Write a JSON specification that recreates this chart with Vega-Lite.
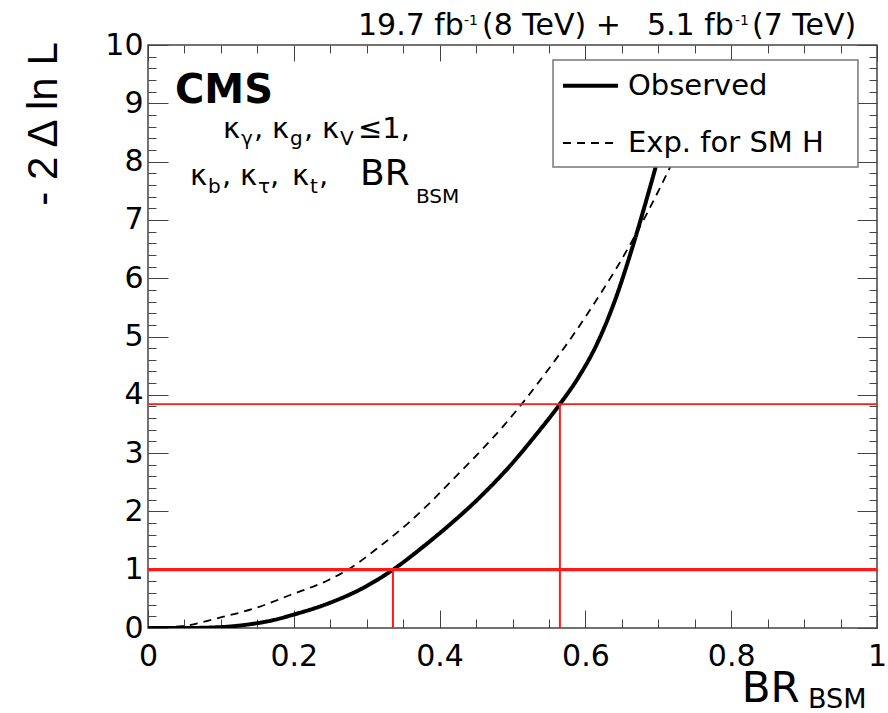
{
  "$schema": "https://vega.github.io/schema/vega-lite/v6.json",
  "width": 729,
  "height": 583,
  "autosize": {"type": "none"},
  "padding": {"left": 148, "top": 45, "right": 11, "bottom": 85},
  "background": "white",
  "config": {
    "view": {"stroke": "#444", "strokeWidth": 1.5},
    "axis": {"tickColor": "#444", "tickWidth": 1, "domain": false, "grid": false, "title": null, "labelFont": "DejaVu Sans", "labelColor": "black", "labelFontSize": 30},
    "text": {"font": "DejaVu Sans", "color": "black"}
  },
  "data": {"values": [{}]},
  "datasets": {
    "curves": [
      {"series": "Observed", "br": 0, "nll": 0},
      {"series": "Observed", "br": 0.05, "nll": 0},
      {"series": "Observed", "br": 0.1, "nll": 0.015},
      {"series": "Observed", "br": 0.137, "nll": 0.06},
      {"series": "Observed", "br": 0.17, "nll": 0.13},
      {"series": "Observed", "br": 0.197, "nll": 0.22},
      {"series": "Observed", "br": 0.247, "nll": 0.42},
      {"series": "Observed", "br": 0.297, "nll": 0.7},
      {"series": "Observed", "br": 0.336, "nll": 1.0},
      {"series": "Observed", "br": 0.38, "nll": 1.42},
      {"series": "Observed", "br": 0.41, "nll": 1.73},
      {"series": "Observed", "br": 0.455, "nll": 2.24},
      {"series": "Observed", "br": 0.5, "nll": 2.83},
      {"series": "Observed", "br": 0.53, "nll": 3.28},
      {"series": "Observed", "br": 0.565, "nll": 3.84},
      {"series": "Observed", "br": 0.59, "nll": 4.29},
      {"series": "Observed", "br": 0.615, "nll": 4.85},
      {"series": "Observed", "br": 0.64, "nll": 5.6},
      {"series": "Observed", "br": 0.665, "nll": 6.55},
      {"series": "Observed", "br": 0.685, "nll": 7.4},
      {"series": "Observed", "br": 0.705, "nll": 8.3},
      {"series": "Observed", "br": 0.72, "nll": 9.0},
      {"series": "Exp. for SM H", "br": 0, "nll": 0},
      {"series": "Exp. for SM H", "br": 0.046, "nll": 0.03},
      {"series": "Exp. for SM H", "br": 0.096, "nll": 0.17},
      {"series": "Exp. for SM H", "br": 0.147, "nll": 0.34},
      {"series": "Exp. for SM H", "br": 0.196, "nll": 0.57},
      {"series": "Exp. for SM H", "br": 0.247, "nll": 0.82},
      {"series": "Exp. for SM H", "br": 0.274, "nll": 1.0},
      {"series": "Exp. for SM H", "br": 0.32, "nll": 1.42},
      {"series": "Exp. for SM H", "br": 0.357, "nll": 1.8},
      {"series": "Exp. for SM H", "br": 0.387, "nll": 2.15},
      {"series": "Exp. for SM H", "br": 0.42, "nll": 2.57},
      {"series": "Exp. for SM H", "br": 0.455, "nll": 3.02},
      {"series": "Exp. for SM H", "br": 0.49, "nll": 3.5},
      {"series": "Exp. for SM H", "br": 0.51, "nll": 3.8},
      {"series": "Exp. for SM H", "br": 0.547, "nll": 4.4},
      {"series": "Exp. for SM H", "br": 0.583, "nll": 5.02},
      {"series": "Exp. for SM H", "br": 0.62, "nll": 5.72},
      {"series": "Exp. for SM H", "br": 0.643, "nll": 6.18},
      {"series": "Exp. for SM H", "br": 0.665, "nll": 6.66},
      {"series": "Exp. for SM H", "br": 0.684, "nll": 7.1},
      {"series": "Exp. for SM H", "br": 0.709, "nll": 7.72},
      {"series": "Exp. for SM H", "br": 0.73, "nll": 8.27},
      {"series": "Exp. for SM H", "br": 0.75, "nll": 8.83}
    ],
    "limits": [
      {"br": 0.336, "nll": 1},
      {"br": 0.565, "nll": 3.84}
    ]
  },
  "resolve": {"axis": {"x": "independent", "y": "independent"}},
  "layer": [
    {
      "data": {"name": "curves"},
      "mark": {"type": "line", "interpolate": "monotone", "color": "black", "clip": true},
      "encoding": {
        "x": {"field": "br", "type": "quantitative", "scale": {"domain": [0, 1], "nice": false, "zero": false},
              "axis": {"orient": "bottom", "values": [0, 0.2, 0.4, 0.6, 0.8, 1], "format": "~g", "tickSize": -18, "labelPadding": 31, "labelFlush": false, "labelOverlap": false}},
        "y": {"field": "nll", "type": "quantitative", "scale": {"domain": [0, 10], "nice": false, "zero": false},
              "axis": {"orient": "left", "values": [0, 1, 2, 3, 4, 5, 6, 7, 8, 9, 10], "format": "d", "tickSize": -20, "labelPadding": 25, "labelFlush": false, "labelOverlap": false}},
        "strokeDash": {"field": "series", "type": "nominal",
          "scale": {"domain": ["Observed", "Exp. for SM H"], "range": [[1, 0], [8, 6]]}, "legend": null},
        "strokeWidth": {"field": "series", "type": "nominal",
          "scale": {"domain": ["Observed", "Exp. for SM H"], "range": [4, 1.8]}, "legend": null}
      }
    },
    {
      "data": {"name": "curves"},
      "mark": {"type": "point", "opacity": 0},
      "encoding": {
        "x": {"field": "br", "type": "quantitative", "scale": {"domain": [0, 1], "nice": false, "zero": false},
              "axis": {"orient": "bottom", "values": [0.05, 0.1, 0.15, 0.25, 0.3, 0.35, 0.45, 0.5, 0.55, 0.65, 0.7, 0.75, 0.85, 0.9, 0.95], "tickSize": -9, "labels": false}},
        "y": {"field": "nll", "type": "quantitative", "scale": {"domain": [0, 10], "nice": false, "zero": false},
              "axis": {"orient": "left", "values": [0.2, 0.4, 0.6, 0.8, 1.2, 1.4, 1.6, 1.8, 2.2, 2.4, 2.6, 2.8, 3.2, 3.4, 3.6, 3.8, 4.2, 4.4, 4.6, 4.8, 5.2, 5.4, 5.6, 5.8, 6.2, 6.4, 6.6, 6.8, 7.2, 7.4, 7.6, 7.8, 8.2, 8.4, 8.6, 8.8, 9.2, 9.4, 9.6, 9.8], "tickSize": -8, "labels": false}}
      }
    },
    {
      "data": {"name": "curves"},
      "mark": {"type": "point", "opacity": 0},
      "encoding": {
        "x": {"field": "br", "type": "quantitative", "scale": {"domain": [0, 1], "nice": false, "zero": false},
              "axis": {"orient": "top", "values": [0, 0.2, 0.4, 0.6, 0.8, 1], "tickSize": -16, "labels": false}},
        "y": {"field": "nll", "type": "quantitative", "scale": {"domain": [0, 10], "nice": false, "zero": false},
              "axis": {"orient": "right", "values": [0, 1, 2, 3, 4, 5, 6, 7, 8, 9, 10], "tickSize": -20, "labels": false}}
      }
    },
    {
      "data": {"name": "curves"},
      "mark": {"type": "point", "opacity": 0},
      "encoding": {
        "x": {"field": "br", "type": "quantitative", "scale": {"domain": [0, 1], "nice": false, "zero": false},
              "axis": {"orient": "top", "values": [0.05, 0.1, 0.15, 0.25, 0.3, 0.35, 0.45, 0.5, 0.55, 0.65, 0.7, 0.75, 0.85, 0.9, 0.95], "tickSize": -8, "labels": false}},
        "y": {"field": "nll", "type": "quantitative", "scale": {"domain": [0, 10], "nice": false, "zero": false},
              "axis": {"orient": "right", "values": [0.2, 0.4, 0.6, 0.8, 1.2, 1.4, 1.6, 1.8, 2.2, 2.4, 2.6, 2.8, 3.2, 3.4, 3.6, 3.8, 4.2, 4.4, 4.6, 4.8, 5.2, 5.4, 5.6, 5.8, 6.2, 6.4, 6.6, 6.8, 7.2, 7.4, 7.6, 7.8, 8.2, 8.4, 8.6, 8.8, 9.2, 9.4, 9.6, 9.8], "tickSize": -8, "labels": false}}
      }
    },
    {
      "data": {"name": "limits"},
      "mark": {"type": "rule", "color": "#ff1a1a"},
      "encoding": {
        "y": {"field": "nll", "type": "quantitative", "axis": null},
        "strokeWidth": {"condition": {"test": "datum.nll == 1", "value": 3.2}, "value": 1.8}
      }
    },
    {
      "data": {"name": "limits"},
      "mark": {"type": "rule", "color": "#ff1a1a", "strokeWidth": 2},
      "encoding": {
        "x": {"field": "br", "type": "quantitative", "axis": null},
        "y": {"datum": 0, "type": "quantitative", "axis": null},
        "y2": {"field": "nll", "type": "quantitative"}
      }
    },
    {"mark": {"type": "rect", "fill": "white", "stroke": "#777", "strokeWidth": 1.5},
     "encoding": {"x": {"datum": 0.5556, "type": "quantitative", "axis": null}, "x2": {"datum": 0.9739}, "y": {"datum": 9.743, "type": "quantitative", "axis": null}, "y2": {"datum": 7.907}}},
    {"mark": {"type": "rule", "color": "black", "strokeWidth": 4},
     "encoding": {"x": {"datum": 0.5693, "type": "quantitative", "axis": null}, "x2": {"datum": 0.6447}, "y": {"datum": 9.302, "type": "quantitative", "axis": null}}},
    {"mark": {"type": "rule", "color": "black", "strokeWidth": 1.8, "strokeDash": [8, 6]},
     "encoding": {"x": {"datum": 0.5693, "type": "quantitative", "axis": null}, "x2": {"datum": 0.6447}, "y": {"datum": 8.319, "type": "quantitative", "axis": null}}},
    {"mark": {"type": "text", "align": "left", "baseline": "middle", "fontSize": 29},
     "encoding": {"x": {"datum": 0.6584, "type": "quantitative", "axis": null}, "y": {"datum": 9.302, "type": "quantitative", "axis": null}, "text": {"value": "Observed"}}},
    {"mark": {"type": "text", "align": "left", "baseline": "middle", "fontSize": 29},
     "encoding": {"x": {"datum": 0.6584, "type": "quantitative", "axis": null}, "y": {"datum": 8.319, "type": "quantitative", "axis": null}, "text": {"value": "Exp. for SM H"}}},

    {"mark": {"type": "text", "align": "left", "baseline": "alphabetic", "fontSize": 40, "fontWeight": "bold"},
     "encoding": {"x": {"datum": 0.037, "type": "quantitative", "axis": null}, "y": {"datum": 9.0, "type": "quantitative", "axis": null}, "text": {"value": "CMS"}}},

    {"mark": {"type": "text", "align": "left", "baseline": "alphabetic", "fontSize": 29},
     "encoding": {"x": {"datum": 0.1029, "type": "quantitative", "axis": null}, "y": {"datum": 8.40, "type": "quantitative", "axis": null}, "text": {"value": "κ"}}},
    {"mark": {"type": "text", "align": "left", "baseline": "alphabetic", "fontSize": 20},
     "encoding": {"x": {"datum": 0.1276, "type": "quantitative", "axis": null}, "y": {"datum": 8.285, "type": "quantitative", "axis": null}, "text": {"value": "γ"}}},
    {"mark": {"type": "text", "align": "left", "baseline": "alphabetic", "fontSize": 29},
     "encoding": {"x": {"datum": 0.1454, "type": "quantitative", "axis": null}, "y": {"datum": 8.40, "type": "quantitative", "axis": null}, "text": {"value": ","}}},
    {"mark": {"type": "text", "align": "left", "baseline": "alphabetic", "fontSize": 29},
     "encoding": {"x": {"datum": 0.1701, "type": "quantitative", "axis": null}, "y": {"datum": 8.40, "type": "quantitative", "axis": null}, "text": {"value": "κ"}}},
    {"mark": {"type": "text", "align": "left", "baseline": "alphabetic", "fontSize": 20},
     "encoding": {"x": {"datum": 0.1948, "type": "quantitative", "axis": null}, "y": {"datum": 8.285, "type": "quantitative", "axis": null}, "text": {"value": "g"}}},
    {"mark": {"type": "text", "align": "left", "baseline": "alphabetic", "fontSize": 29},
     "encoding": {"x": {"datum": 0.2140, "type": "quantitative", "axis": null}, "y": {"datum": 8.40, "type": "quantitative", "axis": null}, "text": {"value": ","}}},
    {"mark": {"type": "text", "align": "left", "baseline": "alphabetic", "fontSize": 29},
     "encoding": {"x": {"datum": 0.2387, "type": "quantitative", "axis": null}, "y": {"datum": 8.40, "type": "quantitative", "axis": null}, "text": {"value": "κ"}}},
    {"mark": {"type": "text", "align": "left", "baseline": "alphabetic", "fontSize": 20},
     "encoding": {"x": {"datum": 0.2634, "type": "quantitative", "axis": null}, "y": {"datum": 8.285, "type": "quantitative", "axis": null}, "text": {"value": "V"}}},
    {"mark": {"type": "text", "align": "left", "baseline": "alphabetic", "fontSize": 29},
     "encoding": {"x": {"datum": 0.2881, "type": "quantitative", "axis": null}, "y": {"datum": 8.40, "type": "quantitative", "axis": null}, "text": {"value": "≤1,"}}},

    {"mark": {"type": "text", "align": "left", "baseline": "alphabetic", "fontSize": 29},
     "encoding": {"x": {"datum": 0.0576, "type": "quantitative", "axis": null}, "y": {"datum": 7.599, "type": "quantitative", "axis": null}, "text": {"value": "κ"}}},
    {"mark": {"type": "text", "align": "left", "baseline": "alphabetic", "fontSize": 20},
     "encoding": {"x": {"datum": 0.0823, "type": "quantitative", "axis": null}, "y": {"datum": 7.46, "type": "quantitative", "axis": null}, "text": {"value": "b"}}},
    {"mark": {"type": "text", "align": "left", "baseline": "alphabetic", "fontSize": 29},
     "encoding": {"x": {"datum": 0.1015, "type": "quantitative", "axis": null}, "y": {"datum": 7.599, "type": "quantitative", "axis": null}, "text": {"value": ","}}},
    {"mark": {"type": "text", "align": "left", "baseline": "alphabetic", "fontSize": 29},
     "encoding": {"x": {"datum": 0.1262, "type": "quantitative", "axis": null}, "y": {"datum": 7.599, "type": "quantitative", "axis": null}, "text": {"value": "κ"}}},
    {"mark": {"type": "text", "align": "left", "baseline": "alphabetic", "fontSize": 20},
     "encoding": {"x": {"datum": 0.1509, "type": "quantitative", "axis": null}, "y": {"datum": 7.46, "type": "quantitative", "axis": null}, "text": {"value": "τ"}}},
    {"mark": {"type": "text", "align": "left", "baseline": "alphabetic", "fontSize": 29},
     "encoding": {"x": {"datum": 0.1674, "type": "quantitative", "axis": null}, "y": {"datum": 7.599, "type": "quantitative", "axis": null}, "text": {"value": ","}}},
    {"mark": {"type": "text", "align": "left", "baseline": "alphabetic", "fontSize": 29},
     "encoding": {"x": {"datum": 0.1975, "type": "quantitative", "axis": null}, "y": {"datum": 7.599, "type": "quantitative", "axis": null}, "text": {"value": "κ"}}},
    {"mark": {"type": "text", "align": "left", "baseline": "alphabetic", "fontSize": 20},
     "encoding": {"x": {"datum": 0.2222, "type": "quantitative", "axis": null}, "y": {"datum": 7.46, "type": "quantitative", "axis": null}, "text": {"value": "t"}}},
    {"mark": {"type": "text", "align": "left", "baseline": "alphabetic", "fontSize": 29},
     "encoding": {"x": {"datum": 0.2346, "type": "quantitative", "axis": null}, "y": {"datum": 7.599, "type": "quantitative", "axis": null}, "text": {"value": ","}}},
    {"mark": {"type": "text", "align": "left", "baseline": "alphabetic", "fontSize": 36},
     "encoding": {"x": {"datum": 0.2908, "type": "quantitative", "axis": null}, "y": {"datum": 7.599, "type": "quantitative", "axis": null}, "text": {"value": "BR"}}},
    {"mark": {"type": "text", "align": "left", "baseline": "alphabetic", "fontSize": 20},
     "encoding": {"x": {"datum": 0.3676, "type": "quantitative", "axis": null}, "y": {"datum": 7.29, "type": "quantitative", "axis": null}, "text": {"value": "BSM"}}},

    {"mark": {"type": "text", "align": "left", "baseline": "alphabetic", "fontSize": 30},
     "encoding": {"x": {"datum": 0.288, "type": "quantitative", "axis": null}, "y": {"datum": 10.171, "type": "quantitative", "axis": null}, "text": {"value": "19.7 fb"}}},
    {"mark": {"type": "text", "align": "left", "baseline": "alphabetic", "fontSize": 14},
     "encoding": {"x": {"datum": 0.4335, "type": "quantitative", "axis": null}, "y": {"datum": 10.343, "type": "quantitative", "axis": null}, "text": {"value": "-1"}}},
    {"mark": {"type": "text", "align": "left", "baseline": "alphabetic", "fontSize": 30},
     "encoding": {"x": {"datum": 0.4581, "type": "quantitative", "axis": null}, "y": {"datum": 10.171, "type": "quantitative", "axis": null}, "text": {"value": "(8 TeV) +"}}},
    {"mark": {"type": "text", "align": "left", "baseline": "alphabetic", "fontSize": 30},
     "encoding": {"x": {"datum": 0.6845, "type": "quantitative", "axis": null}, "y": {"datum": 10.171, "type": "quantitative", "axis": null}, "text": {"value": "5.1 fb"}}},
    {"mark": {"type": "text", "align": "left", "baseline": "alphabetic", "fontSize": 14},
     "encoding": {"x": {"datum": 0.8052, "type": "quantitative", "axis": null}, "y": {"datum": 10.343, "type": "quantitative", "axis": null}, "text": {"value": "-1"}}},
    {"mark": {"type": "text", "align": "left", "baseline": "alphabetic", "fontSize": 30},
     "encoding": {"x": {"datum": 0.8285, "type": "quantitative", "axis": null}, "y": {"datum": 10.171, "type": "quantitative", "axis": null}, "text": {"value": "(7 TeV)"}}},

    {"mark": {"type": "text", "align": "center", "baseline": "alphabetic", "angle": 270, "font": "Liberation Sans", "fontSize": 42},
     "encoding": {"x": {"datum": -0.1248, "type": "quantitative", "axis": null}, "y": {"datum": 8.645, "type": "quantitative", "axis": null}, "text": {"value": "- 2 Δ ln L"}}},
    {"mark": {"type": "text", "align": "left", "baseline": "alphabetic", "fontSize": 42},
     "encoding": {"x": {"datum": 0.8144, "type": "quantitative", "axis": null}, "y": {"datum": -1.264, "type": "quantitative", "axis": null}, "text": {"value": "BR"}}},
    {"mark": {"type": "text", "align": "left", "baseline": "alphabetic", "fontSize": 27},
     "encoding": {"x": {"datum": 0.9053, "type": "quantitative", "axis": null}, "y": {"datum": -1.372, "type": "quantitative", "axis": null}, "text": {"value": "BSM"}}}
  ]
}
